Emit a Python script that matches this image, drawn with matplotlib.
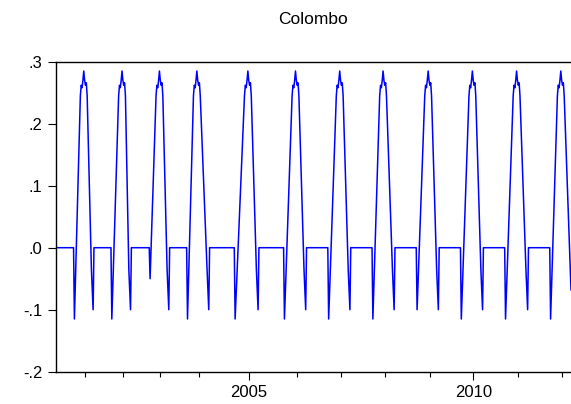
import matplotlib
matplotlib.use("Agg")
import matplotlib.pyplot as plt
import numpy as np

# Colombo series, x = observation number (EViews-style axis, year ticks at first obs of each year)
n_obs = 606
year_labels = [2001, 2002, 2003, 2004, 2005, 2006, 2007, 2008, 2009, 2010, 2011, 2012]
year_start_obs = [34, 79, 123, 168, 227, 284, 335, 387, 440, 491, 544, 596]

# one seasonal cycle per year: negative dip, peak, negative trough, then flat zero
dip_obs = [22, 66, 111, 155, 211, 269, 321, 373, 425, 477, 529, 582]
dip_val = [-0.115, -0.115, -0.05, -0.115, -0.115, -0.115, -0.115, -0.115, -0.10, -0.115, -0.115, -0.115]
peak_obs = [33, 78, 122, 166, 226, 282, 334, 385, 438, 490, 542, 594]
peak_shape = [0.245, 0.262, 0.258, 0.270, 0.285, 0.270, 0.262, 0.266, 0.245]  # obs peak-4 .. peak+4
trough_obs = [44, 88, 133, 180, 238, 294, 346, 398, 450, 502, 555]
trough_val = -0.10
pre_trough_val = -0.035
last_val = -0.068

# assemble the line vertices
xs, ys = [0], [0.0]
for i in range(len(dip_obs)):
    xs += [dip_obs[i] - 1, dip_obs[i]]
    ys += [0.0, dip_val[i]]
    for k, v in enumerate(peak_shape):
        xs.append(peak_obs[i] - 4 + k)
        ys.append(v)
    if i < len(trough_obs):
        xs += [trough_obs[i] - 2, trough_obs[i], trough_obs[i] + 1]
        ys += [pre_trough_val, trough_val, 0.0]
    else:
        xs.append(n_obs)
        ys.append(last_val)

plt.rcParams['font.family'] = ['Liberation Sans', 'DejaVu Sans']

fig = plt.figure(figsize=(5.71, 4.04), dpi=100)
ax = fig.add_axes([55.7 / 571, 1 - 371.7 / 404, 1 - 55.7 / 571, (371.7 - 61.7) / 404])

ax.plot(xs, ys, color='#0000ff', linewidth=1.1)

ax.set_xlim(0, n_obs)
ax.set_ylim(-0.2, 0.3)

yt = [-0.2, -0.1, 0.0, 0.1, 0.2, 0.3]
ax.set_yticks(yt)
ax.set_yticklabels(['-.2', '-.1', '.0', '.1', '.2', '.3'], fontsize=12)

major = [s for s, y in zip(year_start_obs, year_labels) if y % 5 == 0]
minor = [s for s, y in zip(year_start_obs, year_labels) if y % 5 != 0]
ax.set_xticks(major)
ax.set_xticklabels([str(y) for y in year_labels if y % 5 == 0], fontsize=12)
ax.set_xticks(minor, minor=True)

ax.tick_params(axis='y', length=5.6, width=0.8, pad=4)
ax.tick_params(axis='x', which='major', length=5.8, width=0.8, pad=4)
ax.tick_params(axis='x', which='minor', length=3.4, width=0.8)

for side in ['left', 'bottom', 'top']:
    ax.spines[side].set_linewidth(1.0)
ax.spines['right'].set_visible(False)

fig.text(313.4 / 571, 1 - 20 / 404, 'Colombo', ha='center', va='center', fontsize=12.5)

fig.savefig('out.png', dpi=100)
